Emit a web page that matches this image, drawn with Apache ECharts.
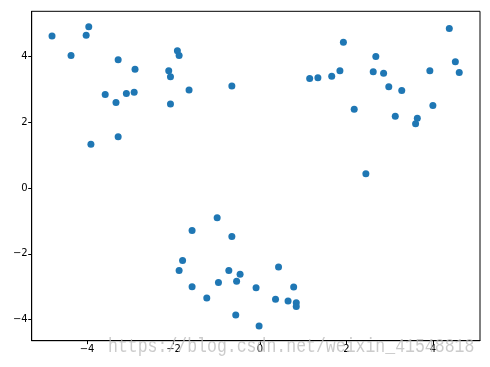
<!DOCTYPE html>
<html>
<head>
<meta charset="utf-8">
<script src="https://cdn.jsdelivr.net/npm/echarts@6/dist/echarts.min.js"></script>
<style>html,body{margin:0;padding:0;background:#fff;}#c{width:490px;height:367px;}</style>
</head>
<body>
<div id="c"></div>
<script>
var xValues = [-4.81,-3.96,-4.02,-4.37,-3.28,-2.89,-3.58,-3.33,-3.09,-2.91,-3.28,-3.91,-2.11,-2.07,-1.91,-1.87,-2.07,-1.64,-0.65,
  4.38,1.93,2.68,4.52,4.61,3.93,1.15,1.34,1.66,1.85,2.62,2.86,2.98,3.28,2.18,3.13,3.64,3.60,4.00,2.45,
  -0.99,-1.57,-0.65,-1.79,-1.87,-0.72,-0.46,-0.54,-0.96,-1.57,0.43,-0.09,0.78,-1.23,0.36,0.65,0.84,0.84,-0.56,-0.02];
var yValues = [4.62,4.90,4.64,4.03,3.90,3.61,2.84,2.60,2.87,2.91,1.56,1.33,3.56,3.38,4.17,4.03,2.55,2.98,3.10,
  4.85,4.43,4.00,3.84,3.51,3.56,3.33,3.35,3.40,3.56,3.53,3.49,3.08,2.96,2.39,2.18,2.12,1.95,2.51,0.43,
  -0.90,-1.29,-1.47,-2.20,-2.51,-2.51,-2.62,-2.83,-2.87,-3.00,-2.40,-3.03,-3.01,-3.34,-3.38,-3.43,-3.49,-3.60,-3.86,-4.19];
var xTicks = [-4,-2,0,2,4];
var yTicks = [-4,-2,0,2,4];
var watermark = "https://blog.csdn.net/weixin_41548818";

var pts = xValues.map(function(x,i){return [x,yValues[i]];});
var chart = echarts.init(document.getElementById('c'), null, {renderer:'canvas'});
function axis(min,max,ticks){
  return {
    type:'value', min:min, max:max,
    splitLine:{show:false},
    axisLine:{show:true, onZero:false, lineStyle:{color:'#000', width:1}},
    axisTick:{show:true, customValues:ticks, length:3.5, lineStyle:{color:'#000'}},
    axisLabel:{customValues:ticks, color:'#000', fontSize:10, fontFamily:'DejaVu Sans', margin:4,
      formatter:function(v){return v<0?'\u2212'+Math.abs(v):String(v);}}
  };
}
var xa = axis(-5.28,5.09,xTicks);
var ya = axis(-4.64,5.37,yTicks);
chart.setOption({
  animation:false,
  grid:{left:31.7, right:10, top:11.3, bottom:26.3, show:true, borderColor:'#000', borderWidth:1, containLabel:false},
  xAxis:xa,
  yAxis:ya,
  series:[{type:'scatter', data:pts, symbolSize:7, itemStyle:{color:'#1f77b4', opacity:1}}],
  graphic:[{type:'text', x:108, y:347, scaleY:1.25, z:100, silent:true,
    style:{text:watermark, font:'16.5px "Liberation Mono"', fill:'rgba(185,185,185,0.75)', verticalAlign:'middle', align:'left'}}]
});
</script>
</body>
</html>
